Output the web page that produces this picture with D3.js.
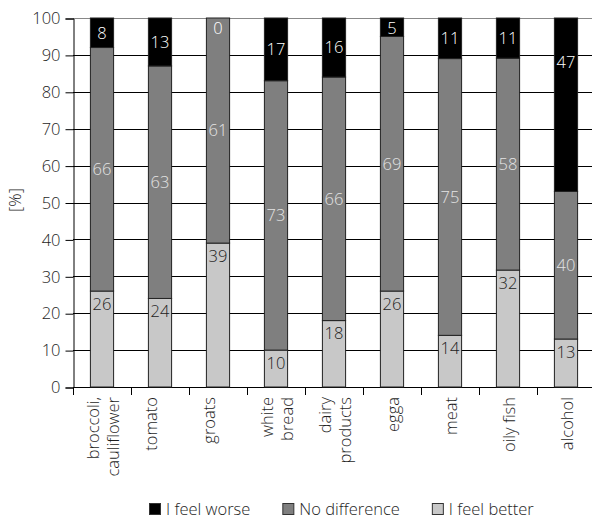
<html>
<head><meta charset="utf-8"/></head>
<script src='https://d3js.org/d3.v7.min.js'></script>
<style>
  body {margin: 0; background: #fff;}
  text {font-family: "Open Sans", sans-serif; font-weight: 300; font-size: 16.5px; fill: #1e1e1e;}
</style>
<body onload='init()'>
<svg width=592 height=520></svg>
<script>

// categories (\n = line break in the axis label)
var foods = ["broccoli,\ncauliflower", "tomato\n", "groats\n", "white\nbread", "dairy\nproducts", "egga", "meat", "oily fish", "alcohol"];
var feelBetter = [26, 24, 39, 10, 18, 26, 14, 32, 13];
var noDifference = [66, 63, 61, 73, 66, 69, 75, 58, 40];
var feelWorse = [8, 13, 0, 17, 16, 5, 11, 11, 47];
var seriesNames = ["I feel worse", "No difference", "I feel better"];
var yTicks = [0, 10, 20, 30, 40, 50, 60, 70, 80, 90, 100];

function init() {
  var svg = d3.select("svg");
  var left = 73, right = 595, top = 18, bottom = 387;

  var x = d3.scaleBand().domain(d3.range(foods.length)).range([left, right]).padding(0);
  var y = d3.scaleLinear().domain([0, 100]).range([bottom, top]);
  var barW = x.bandwidth() * 0.4;
  var color = {worse: "#000000", none: "#7f7f7f", better: "#c8c8c8"};

  // grid lines
  svg.append("g")
    .selectAll("line")
    .data(yTicks)
    .enter()
    .append("line")
    .attr("x1", left).attr("x2", right)
    .attr("y1", function(d) { return Math.round(y(d)) + 0.5; })
    .attr("y2", function(d) { return Math.round(y(d)) + 0.5; })
    .attr("stroke", function(d) { return d == 100 ? "#888" : "#000"; });

  // y axis
  var yAxis = svg.append("g")
    .attr("transform", "translate(" + (left + 0.5) + ",0.5)")
    .call(d3.axisLeft(y).tickValues(yTicks).tickSize(8).tickPadding(5));
  yAxis.select(".domain").attr("stroke", "#000");
  yAxis.selectAll(".tick line").attr("stroke", "#000");
  yAxis.selectAll("text").attr("font-size", null).attr("font-family", null).attr("fill", null);

  svg.append("text")
    .attr("transform", "translate(15,200) rotate(-90)")
    .attr("text-anchor", "middle")
    .attr("dy", "0.35em")
    .text("[%]");

  // stacked data, each bar expanded to 100 %
  var rows = foods.map(function(f, i) {
    return {i: i, better: feelBetter[i], none: noDifference[i], worse: feelWorse[i]};
  });
  var series = d3.stack().keys(["better", "none", "worse"]).offset(d3.stackOffsetExpand)(rows);
  var segs = [];
  series.forEach(function(s) {
    s.forEach(function(d) {
      segs.push({i: d.data.i, key: s.key, y0: d[0] * 100, y1: d[1] * 100, v: d.data[s.key]});
    });
  });

  svg.append("g")
    .selectAll("rect")
    .data(segs)
    .enter()
    .append("rect")
    .attr("x", function(d) { return x(d.i) + (x.bandwidth() - barW) / 2; })
    .attr("width", barW)
    .attr("y", function(d) { return y(d.y1); })
    .attr("height", function(d) { return y(d.y0) - y(d.y1); })
    .attr("fill", function(d) { return color[d.key]; })
    .attr("stroke", "#222")
    .attr("stroke-width", 1);

  // value labels
  svg.append("g")
    .selectAll("text")
    .data(segs)
    .enter()
    .append("text")
    .attr("x", function(d) { return x(d.i) + x.bandwidth() / 2; })
    .attr("y", function(d) {
      var ty = y(d.y1), mid = (y(d.y0) + y(d.y1)) / 2;
      if (d.key == "better") return ty + 13;
      if (d.key == "worse") return Math.max(Math.min(mid, ty + 44), ty + 10);
      return mid;
    })
    .attr("dy", "0.35em")
    .attr("text-anchor", "middle")
    .style("fill", function(d) { return d.key == "better" ? "#222" : (d.key == "worse" ? "#fff" : "#e4e4e4"); })
    .text(function(d) { return d.v; });

  // x axis ticks
  svg.append("g")
    .selectAll("line")
    .data(d3.range(foods.length))
    .enter()
    .append("line")
    .attr("x1", function(i) { return Math.round(x(i)) + 0.5; })
    .attr("x2", function(i) { return Math.round(x(i)) + 0.5; })
    .attr("y1", bottom).attr("y2", bottom + 8)
    .attr("stroke", "#000");

  // category labels
  var lab = svg.append("g")
    .selectAll("g")
    .data(foods)
    .enter()
    .append("g")
    .attr("transform", function(d, i) { return "translate(" + (x(i) + x.bandwidth() / 2 + 1) + "," + (bottom + 10) + ") rotate(-90)"; });
  lab.each(function(d) {
    var lines = d.split("\n");
    var g = d3.select(this);
    lines.forEach(function(l, k) {
      g.append("text")
        .attr("text-anchor", "end")
        .attr("x", 0)
        .attr("y", (k - (lines.length - 1) / 2) * 20)
        .attr("dy", "0.35em")
        .text(l);
    });
  });

  // legend
  var legend = svg.append("g").attr("transform", "translate(149,509)");
  var lx = 0;
  var legColors = [color.worse, color.none, color.better];
  seriesNames.forEach(function(s, k) {
    legend.append("rect")
      .attr("x", lx + 0.5).attr("y", -5.5)
      .attr("width", 11).attr("height", 11)
      .attr("fill", legColors[k])
      .attr("stroke", "#333");
    var t = legend.append("text")
      .attr("x", lx + 17).attr("y", 0)
      .attr("dy", "0.35em")
      .text(s);
    lx += 17 + t.node().getComputedTextLength() + 32;
  });
}
</script>
</body>
</html>
